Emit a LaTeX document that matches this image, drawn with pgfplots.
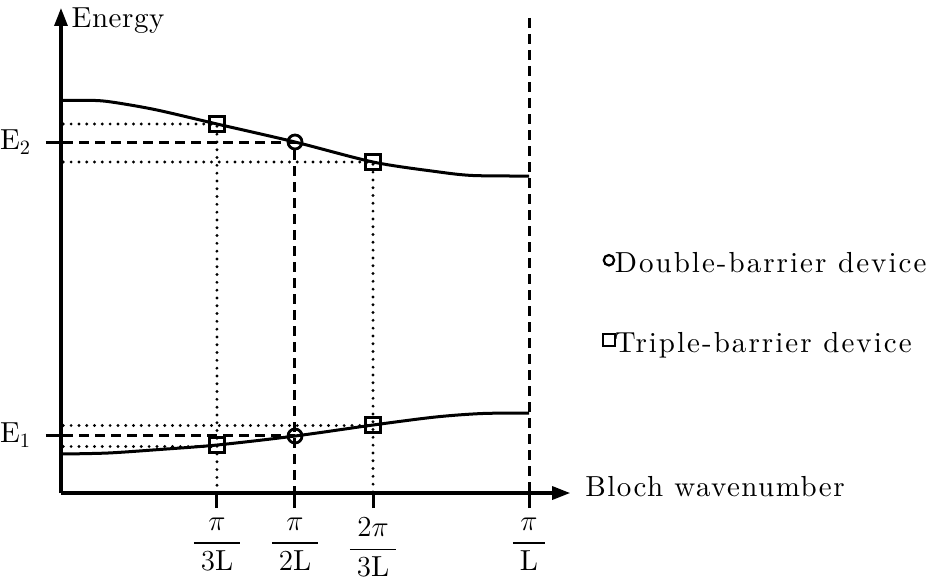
\RequirePackage{fix-cm}
\documentclass[border=0pt]{standalone}
\usepackage{amsmath}
\usepackage{fontspec}
\setmainfont{lmroman10-regular.otf}[BoldFont=lmroman10-bold.otf, ItalicFont=lmroman10-italic.otf]
\usepackage{pgfplots}
\pgfplotsset{compat=1.18}
\usetikzlibrary{arrows.meta}
\newcommand{\bigfont}{\fontsize{14.5pt}{17pt}\selectfont}
\newcommand{\fr}[2]{\dfrac{#1}{\hspace{3.5pt}#2\hspace{3.5pt}}}
\begin{document}
\begin{tikzpicture}
\begin{axis}[
  scale only axis,
  x=234pt, y=0.5pt,
  xmin=0, xmax=1.088, ymin=0, ymax=485,
  axis lines=left,
  axis line style={line width=1.6pt, -{Triangle[length=9pt,width=6.5pt]}},
  clip=false,
  xtick={0.3333,0.5,0.6667,1},
  xticklabels={$\fr{\pi}{3\mathrm{L}}$,$\fr{\pi}{2\mathrm{L}}$,$\fr{2\pi}{3\mathrm{L}}$,$\fr{\pi}{\mathrm{L}}$},
  ytick={58,351},
  yticklabels={$\mathrm{E}_1$,$\mathrm{E}_2$},
  tick align=outside,
  major tick length=7.5pt,
  tick style={line width=1.5pt, black},
  tick label style={font=\bigfont},
  xticklabel style={yshift=-1.5pt},
  yticklabel style={xshift=-4pt},
  legend style={draw=none, fill=none, at={(axis cs:1.158,240.5)}, anchor=north west,
    inner sep=0pt, outer sep=0pt, row sep=28.3pt, font=\bigfont\addfontfeatures{LetterSpace=7},
    nodes={inner sep=0pt, anchor=base west},
    /tikz/every even column/.append style={column sep=4.5pt}},
  legend image code/.code={\draw[#1, line width=1.1pt] plot coordinates {(2.8pt,0.62em)};},
  dotline/.style={line width=1.6pt, line cap=round, dash pattern=on 0pt off 3.9pt, forget plot},
  dashline/.style={line width=1.5pt, dash pattern=on 5pt off 3pt, forget plot},
]
% energy bands
\addplot[line width=1.5pt, smooth, tension=0.5, forget plot] coordinates {(0,392.5)(0.05,392.7)(0.1,391.5)(0.2,383.5)(0.3333,369)(0.5,351)(0.6667,331)(0.8,321.5)(0.88,317.5)(1,317)};
\addplot[line width=1.5pt, smooth, tension=0.5, forget plot] coordinates {(0,39)(0.1,40)(0.21,43.5)(0.3333,48)(0.5,57)(0.6667,68)(0.8,76)(0.9,79.5)(1,80)};
% guide lines
\addplot[dotline] coordinates {(0.005,369)(0.3333,369)(0.3333,0)};
\addplot[dotline] coordinates {(0.005,331)(0.6667,331)(0.6667,0)};
\addplot[dashline] coordinates {(0.005,351)(0.5,351)(0.5,0)};
\addplot[dotline] coordinates {(0.005,67.5)(0.6667,67.5)};
\addplot[dotline] coordinates {(0.005,46.5)(0.3333,46.5)};
\addplot[dashline] coordinates {(0.005,57.5)(0.5,57.5)};
\addplot[dashline] coordinates {(1,475)(1,0)};
% markers
\addplot[only marks, mark=square, mark size=3.6pt, line width=1.4pt, forget plot] coordinates {(0.3333,369)(0.6667,331)(0.3333,48)(0.6667,68)};
\addplot[only marks, mark=o, mark size=3.5pt, line width=1.4pt, forget plot] coordinates {(0.5,351)(0.5,57)};
% legend
\addlegendimage{only marks, mark=o, mark size=2.6pt}
\addlegendentry{Double-barrier device}
\addlegendimage{only marks, mark=square, mark size=3pt}
\addlegendentry{Triple-barrier device}
% labels
\node[anchor=base west, font=\bigfont\addfontfeatures{LetterSpace=2}, inner sep=0pt] at (axis cs:0.022,465) {Energy};
\node[anchor=base west, font=\bigfont\addfontfeatures{LetterSpace=5}, inner sep=0pt] at (axis cs:1.1197,-3) {Bloch wavenumber};
\coordinate (bbA) at (axis cs:-0.1303,-90);
\coordinate (bbB) at (axis cs:1.8568,493);
\end{axis}
\pgfresetboundingbox
\path[use as bounding box] (bbA) rectangle (bbB);
\end{tikzpicture}
\end{document}
